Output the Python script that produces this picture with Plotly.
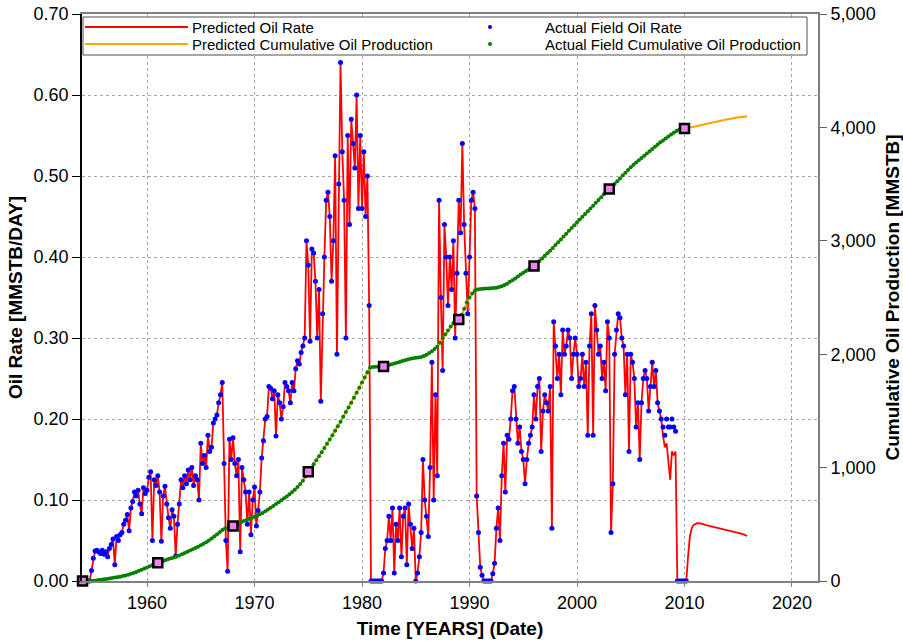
import plotly.graph_objects as go

# ---------------- data ----------------
RATE_START = 1954.0          # first actual sample (year)
RATE_PER_YEAR = 6            # samples per year in the actual-rate table

# Actual field oil rate [MMSTB/DAY], 6 samples per year, 1954.0 .. 2010.17
actual_rate = [
    0.000, 0.000, 0.000, 0.000, 0.000, 0.013,   # 1954
    0.028, 0.037, 0.038, 0.036, 0.034, 0.038,   # 1955
    0.033, 0.036, 0.030, 0.040, 0.045, 0.052,   # 1956
    0.020, 0.055, 0.050, 0.057, 0.060, 0.070,   # 1957
    0.075, 0.082, 0.062, 0.090, 0.098, 0.110,   # 1958
    0.105, 0.112, 0.095, 0.083, 0.115, 0.108,   # 1959
    0.112, 0.128, 0.135, 0.050, 0.125, 0.118,   # 1960
    0.130, 0.110, 0.049, 0.105, 0.117, 0.095,   # 1961
    0.078, 0.065, 0.088, 0.080, 0.031, 0.070,   # 1962
    0.095, 0.125, 0.115, 0.130, 0.120, 0.137,   # 1963
    0.125, 0.140, 0.118, 0.130, 0.125, 0.100,   # 1964
    0.170, 0.145, 0.155, 0.140, 0.180, 0.160,   # 1965
    0.165, 0.195, 0.200, 0.205, 0.220, 0.230,   # 1966
    0.245, 0.145, 0.050, 0.012, 0.175, 0.150,   # 1967
    0.177, 0.145, 0.130, 0.150, 0.036, 0.140,   # 1968
    0.125, 0.110, 0.070, 0.110, 0.057, 0.100,   # 1969
    0.116, 0.068, 0.087, 0.110, 0.152, 0.173,   # 1970
    0.200, 0.203, 0.240, 0.238, 0.225, 0.235,   # 1971
    0.179, 0.230, 0.220, 0.200, 0.215, 0.245,   # 1972
    0.240, 0.235, 0.220, 0.245, 0.235, 0.262,   # 1973
    0.272, 0.268, 0.282, 0.290, 0.300, 0.420,   # 1974
    0.390, 0.296, 0.410, 0.405, 0.370, 0.300,   # 1975
    0.360, 0.222, 0.330, 0.400, 0.470, 0.480,   # 1976
    0.450, 0.370, 0.420, 0.525, 0.280, 0.490,   # 1977
    0.640, 0.530, 0.470, 0.300, 0.550, 0.440,   # 1978
    0.570, 0.540, 0.510, 0.600, 0.460, 0.550,   # 1979
    0.460, 0.530, 0.450, 0.500, 0.340, 0.000,   # 1980
    0.000, 0.000, 0.000, 0.000, 0.000, 0.000,   # 1981
    0.010, 0.040, 0.050, 0.080, 0.050, 0.090,   # 1982
    0.010, 0.070, 0.050, 0.090, 0.030, 0.080,   # 1983
    0.090, 0.020, 0.095, 0.070, 0.040, 0.065,   # 1984
    0.000, 0.010, 0.030, 0.060, 0.150, 0.100,   # 1985
    0.080, 0.055, 0.140, 0.270, 0.100, 0.230,   # 1986
    0.130, 0.470, 0.350, 0.260, 0.440, 0.400,   # 1987
    0.340, 0.400, 0.360, 0.420, 0.300, 0.380,   # 1988
    0.470, 0.430, 0.540, 0.440, 0.380, 0.330,   # 1989
    0.400, 0.470, 0.480, 0.460, 0.105, 0.060,   # 1990
    0.017, 0.007, 0.000, 0.000, 0.000, 0.000,   # 1991
    0.000, 0.009, 0.022, 0.065, 0.090, 0.050,   # 1992
    0.130, 0.170, 0.110, 0.180, 0.175, 0.200,   # 1993
    0.235, 0.240, 0.200, 0.170, 0.190, 0.160,   # 1994
    0.150, 0.120, 0.150, 0.170, 0.180, 0.190,   # 1995
    0.230, 0.200, 0.240, 0.250, 0.160, 0.210,   # 1996
    0.230, 0.220, 0.210, 0.240, 0.065, 0.320,   # 1997
    0.290, 0.250, 0.280, 0.230, 0.310, 0.280,   # 1998
    0.290, 0.310, 0.300, 0.250, 0.280, 0.300,   # 1999
    0.280, 0.240, 0.250, 0.280, 0.240, 0.270,   # 2000
    0.180, 0.290, 0.330, 0.180, 0.340, 0.310,   # 2001
    0.280, 0.290, 0.250, 0.270, 0.235, 0.320,   # 2002
    0.300, 0.060, 0.120, 0.280, 0.310, 0.330,   # 2003
    0.325, 0.300, 0.290, 0.230, 0.280, 0.160,   # 2004
    0.280, 0.270, 0.250, 0.190, 0.220, 0.150,   # 2005
    0.220, 0.250, 0.260, 0.250, 0.210, 0.240,   # 2006
    0.270, 0.240, 0.260, 0.220, 0.210, 0.200,   # 2007
    0.190, 0.180, 0.200, 0.190, 0.190, 0.200,   # 2008
    0.190, 0.185, 0.000, 0.000, 0.000, 0.000,   # 2009
    0.000, 0.000,                               # 2010
]

# Predicted (history-matched) rate departs from the actual data from late 2007
PRED_SPLIT_INDEX = 323       # sample 2007.83
pred_rate_tail = [0.200,
                  0.180, 0.165, 0.170, 0.150, 0.125, 0.160,
                  0.155, 0.160, 0.000, 0.000, 0.000, 0.000,
                  0.000, 0.000]

# Prediction (forecast) period
forecast_years = [2010.33, 2010.50, 2010.67, 2010.83, 2011.17, 2011.50, 2012.0,
                  2012.5, 2013.0, 2013.5, 2014.0, 2014.5, 2015.0, 2015.5, 2015.83]
forecast_rate = [0.030, 0.055, 0.065, 0.069, 0.0715, 0.0712, 0.069,
                 0.0675, 0.066, 0.0645, 0.063, 0.061, 0.0595, 0.0575, 0.0555]

# Actual field cumulative oil production [MMSTB], quarterly, 1954.0 .. 2010.0
CUM_START = 1954.0
CUM_PER_YEAR = 4
actual_cum = [
    0, 0, 0, 1,             # 1954
    2, 5, 8, 12,            # 1955
    15, 18, 22, 26,         # 1956
    30, 34, 38, 43,         # 1957
    48, 55, 63, 71,         # 1958
    80, 90, 100, 110,       # 1959
    120, 130, 140, 150,     # 1960
    160, 168, 177, 186,     # 1961
    195, 201, 207, 215,     # 1962
    225, 236, 247, 258,     # 1963
    270, 281, 292, 303,     # 1964
    315, 328, 342, 358,     # 1965
    375, 392, 410, 430,     # 1966
    450, 462, 468, 476,     # 1967
    486, 497, 508, 518,     # 1968
    528, 538, 548, 556,     # 1969
    566, 576, 588, 600,     # 1970
    614, 630, 646, 662,     # 1971
    678, 695, 712, 729,     # 1972
    746, 765, 785, 805,     # 1973
    830, 856, 884, 922,     # 1974
    963, 995, 1030, 1065,   # 1975
    1100, 1135, 1172, 1210, # 1976
    1248, 1285, 1325, 1365, # 1977
    1405, 1448, 1490, 1530, # 1978
    1572, 1615, 1660, 1705, # 1979
    1750, 1795, 1840, 1880, # 1980
    1888, 1889, 1890, 1890, # 1981
    1891, 1897, 1905, 1912, # 1982
    1918, 1925, 1932, 1940, # 1983
    1947, 1954, 1960, 1965, # 1984
    1968, 1970, 1975, 1985, # 1985
    1995, 2010, 2025, 2045, # 1986
    2065, 2100, 2140, 2175, # 1987
    2210, 2245, 2275, 2292, # 1988
    2305, 2345, 2400, 2455, # 1989
    2500, 2535, 2560, 2570, # 1990
    2575, 2578, 2580, 2580, # 1991
    2581, 2583, 2587, 2592, # 1992
    2600, 2610, 2622, 2638, # 1993
    2652, 2668, 2685, 2702, # 1994
    2718, 2733, 2748, 2762, # 1995
    2778, 2800, 2822, 2845, # 1996
    2868, 2890, 2913, 2937, # 1997
    2962, 2987, 3012, 3037, # 1998
    3063, 3088, 3113, 3138, # 1999
    3163, 3188, 3212, 3236, # 2000
    3260, 3285, 3310, 3335, # 2001
    3360, 3385, 3410, 3433, # 2002
    3457, 3478, 3500, 3525, # 2003
    3550, 3575, 3600, 3625, # 2004
    3648, 3670, 3690, 3710, # 2005
    3730, 3750, 3770, 3790, # 2006
    3810, 3830, 3850, 3868, # 2007
    3885, 3902, 3920, 3937, # 2008
    3953, 3968, 3980, 3987, # 2009
    3990,                   # 2010
]

# Predicted cumulative beyond the history
cum_forecast_years = [2010.5, 2011.0, 2012.0, 2013.0, 2014.0, 2015.0, 2015.83]
cum_forecast = [3996, 4008, 4030, 4052, 4072, 4088, 4098]

# Highlighted (square) samples on the cumulative curve
square_years = [1954, 1961, 1968, 1975, 1982, 1989, 1996, 2003, 2010]
square_cum = [0, 160, 486, 963, 1891, 2305, 2778, 3457, 3990]

# axis ticks
x_ticks = [1960, 1970, 1980, 1990, 2000, 2010, 2020]
rate_ticks = [0.0, 0.1, 0.2, 0.3, 0.4, 0.5, 0.6, 0.7]
cum_ticks = [0, 1000, 2000, 3000, 4000, 5000]

# legend entries: (name, kind, colour)
legend_entries = [
    ("Predicted Oil Rate", "line", "#ff0000"),
    ("Predicted Cumulative Oil Production", "line", "#ffa500"),
    ("Actual Field Oil Rate", "dot", "#0000ff"),
    ("Actual Field Cumulative Oil Production", "dot", "#008000"),
]

# ---------------- derived series ----------------
rate_years = [RATE_START + i / RATE_PER_YEAR for i in range(len(actual_rate))]
pred_years = rate_years + forecast_years
pred_rate = actual_rate[:PRED_SPLIT_INDEX] + pred_rate_tail + forecast_rate

cum_years = [CUM_START + i / CUM_PER_YEAR for i in range(len(actual_cum))]
pred_cum_years = cum_years + cum_forecast_years
pred_cum = actual_cum + cum_forecast

FONT = "Liberation Sans, Arial, sans-serif"
W, H = 903, 644
ML, MR, MT, MB = 82, 85, 14, 63
PW, PH = W - ML - MR, H - MT - MB


def px(xp):   # page pixel x -> paper fraction
    return (xp - ML) / PW


def py(yp):   # page pixel y -> paper fraction
    return (H - MB - yp) / PH


fig = go.Figure()

fig.add_trace(go.Scatter(
    x=pred_years, y=pred_rate, mode="lines", name="Predicted Oil Rate",
    line=dict(color="#ff0000", width=1.8), showlegend=False))
fig.add_trace(go.Scatter(
    x=rate_years, y=actual_rate, mode="markers", name="Actual Field Oil Rate",
    marker=dict(color="#0000ff", size=5), cliponaxis=False, showlegend=False))
fig.add_trace(go.Scatter(
    x=pred_cum_years, y=pred_cum, mode="lines", yaxis="y2",
    name="Predicted Cumulative Oil Production",
    line=dict(color="#ffa500", width=2.2), showlegend=False))
fig.add_trace(go.Scatter(
    x=cum_years, y=actual_cum, mode="markers", yaxis="y2",
    name="Actual Field Cumulative Oil Production",
    marker=dict(color="#008000", size=4), cliponaxis=False, showlegend=False))
fig.add_trace(go.Scatter(
    x=square_years, y=square_cum, mode="markers", yaxis="y2", showlegend=False,
    marker=dict(symbol="square", color="#ee82ee", size=9,
                line=dict(color="#000000", width=2.5)),
    cliponaxis=False, hoverinfo="skip"))

# ---- legend box (drawn inside the plot, top) ----
shapes = [dict(type="rect", xref="paper", yref="paper", layer="above",
               x0=px(83), x1=px(807), y0=py(55), y1=py(17),
               fillcolor="white", line=dict(color="#505050", width=1))]
annotations = []
row_y = [27, 44]
for i, (name, kind, col) in enumerate(legend_entries):
    column = i // 2
    yrow = row_y[i % 2]
    if column == 0:
        shapes.append(dict(type="line", xref="paper", yref="paper", layer="above",
                           x0=px(85), x1=px(188), y0=py(yrow), y1=py(yrow),
                           line=dict(color=col, width=2)))
        tx = 190
    else:
        shapes.append(dict(type="circle", xref="paper", yref="paper", layer="above",
                           x0=px(488), x1=px(492), y0=py(yrow + 2), y1=py(yrow - 2),
                           fillcolor=col, line=dict(color=col, width=0)))
        tx = 543
    annotations.append(dict(text=name, xref="paper", yref="paper",
                            x=px(tx), y=py(yrow), xanchor="left", yanchor="middle",
                            showarrow=False, font=dict(family=FONT, size=15, color="#000000")))

fig.update_layout(
    width=W, height=H,
    margin=dict(l=ML, r=MR, t=MT, b=MB, autoexpand=False),
    paper_bgcolor="white", plot_bgcolor="white",
    font=dict(family=FONT, size=18, color="#000000"),
    showlegend=False,
    shapes=shapes, annotations=annotations,
    xaxis=dict(
        range=[1953.95, 2022.42], tickvals=x_ticks, ticktext=[str(v) for v in x_ticks],
        showgrid=True, gridcolor="#a8a8a8", griddash="dot", gridwidth=1,
        showline=True, linecolor="#808080", linewidth=2, mirror=True,
        ticks="outside", ticklen=4, tickcolor="#808080",
        zeroline=False, automargin=False,
        title=dict(text="<b>Time [YEARS] (Date)</b>", font=dict(size=19), standoff=10),
    ),
    yaxis=dict(
        range=[0, 0.70], tickvals=rate_ticks, tickformat=".2f",
        showgrid=True, gridcolor="#a8a8a8", griddash="dot", gridwidth=1,
        showline=True, linecolor="#000000", linewidth=1.5,
        ticks="outside", ticklen=8, tickcolor="#000000",
        zeroline=False, automargin=False,
        title=dict(text="<b>Oil Rate [MMSTB/DAY]</b>", font=dict(size=19), standoff=6),
    ),
    yaxis2=dict(
        overlaying="y", side="right", range=[0, 5000], tickvals=cum_ticks,
        tickformat=",d", showgrid=False,
        showline=True, linecolor="#808080", linewidth=2,
        ticks="outside", ticklen=7, tickcolor="#606060",
        zeroline=False, automargin=False,
        title=dict(text="<b>Cumulative Oil Production [MMSTB]</b>", font=dict(size=19), standoff=14),
    ),
)

fig.write_html("out.html")
